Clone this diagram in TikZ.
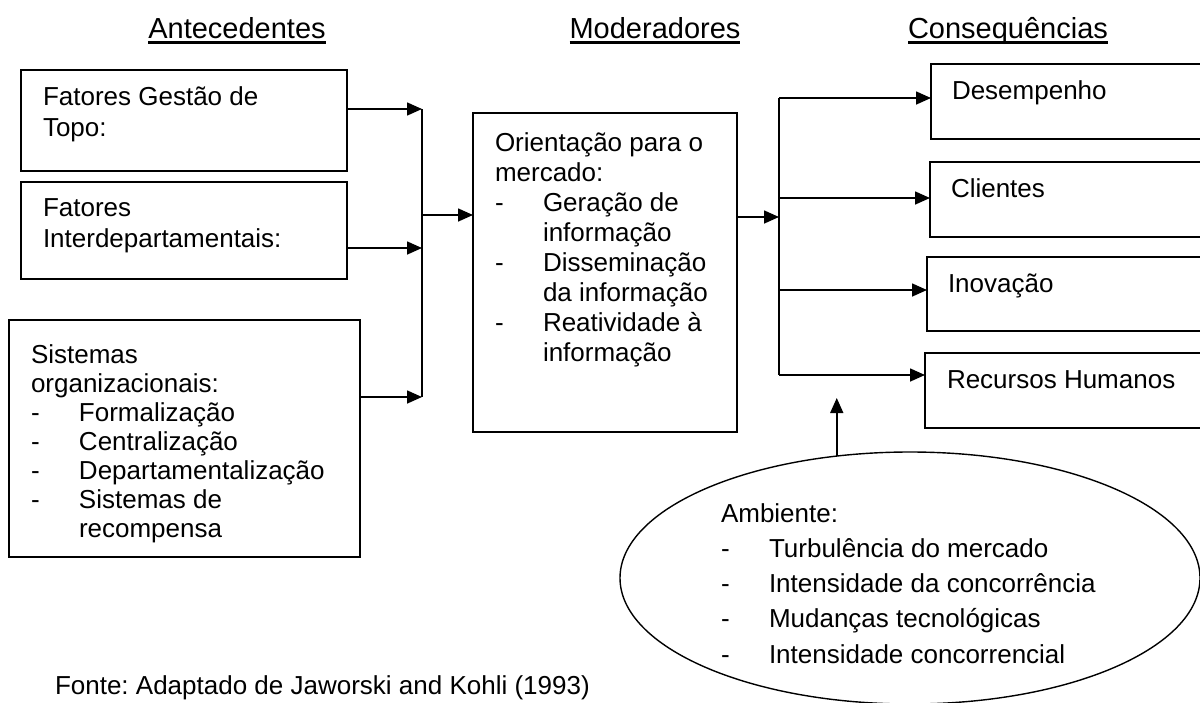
\documentclass[tikz,border=0pt]{standalone}
\usepackage{fontspec}
\setmainfont{Liberation Sans}
\usetikzlibrary{arrows.meta,shapes.geometric,calc}
\frenchspacing
\newcommand{\mydash}{\makebox[48pt][l]{-}}
\newcommand{\myind}{\hspace*{48pt}}
\newcommand{\boxat}[5]{\node[boxnode,minimum width={#4-#2},minimum height={#5-#3}] (#1) at ({(#2+#4)/2},{(#3+#5)/2}) {};}
\newcommand{\textlines}[5]{\foreach \t [count=\i] in {#5} {\node[txt,anchor=base west] (#1-\i) at (#2,{#3+(\i-1)*#4}) {\t};}}
\begin{document}
\begin{tikzpicture}[x=1pt,y=-1pt,
  boxnode/.style={draw,line width=1.8pt,inner sep=0pt,outer sep=0pt,rectangle},
  txt/.style={inner sep=0pt,outer sep=0pt,font=\fontsize{26}{31}\selectfont},
  head/.style={inner sep=0pt,outer sep=0pt,font=\fontsize{29}{34}\selectfont,anchor=base},
  conn/.style={line width=1.6pt},
  arr/.style={line width=1.6pt,-{Triangle[length=15pt,width=13pt]}}]
\useasboundingbox (0,0) rectangle (1200,702);
\clip (0,0) rectangle (1200,702);

% headings
\node[head] (h1) at (237,38) {Antecedentes};
\node[head] (h2) at (655,38) {Moderadores};
\node[head] (h3) at (1008,38) {Consequências};
\foreach \h in {h1,h2,h3} {\draw[line width=2.2pt] ($(\h.base west)+(0,4.5)$) -- ($(\h.base east)+(0,4.5)$);}

% antecedent boxes
\boxat{b1}{21}{70}{347}{171}
\boxat{b2}{21}{182}{347}{279}
\boxat{b3}{9}{320}{360}{557}
\textlines{t1}{43}{105.7}{31}{Fatores Gestão de,Topo:}
\textlines{t2}{43}{216.7}{31}{Fatores,Interdepartamentais:}
\textlines{t3}{31}{363}{29}{Sistemas,organizacionais:,\mydash Formalização,\mydash Centralização,\mydash Departamentalização,\mydash Sistemas de,\myind recompensa}

% moderator box
\boxat{m}{473}{113}{737}{432}
\textlines{tm}{495}{151}{30}{Orientação para o,mercado:,\mydash Geração de,\myind informação,\mydash Disseminação,\myind da informação,\mydash Reatividade à,\myind informação}

% consequence boxes
\boxat{c1}{931}{64}{1215}{139}
\boxat{c2}{930}{162}{1215}{237}
\boxat{c3}{927}{257}{1215}{331}
\boxat{c4}{925}{353}{1215}{428}
\node[txt,anchor=base west] (tc1) at (952,99) {Desempenho};
\node[txt,anchor=base west] (tc2) at (951,197) {Clientes};
\node[txt,anchor=base west] (tc3) at (948,292) {Inovação};
\node[txt,anchor=base west] (tc4) at (947,388) {Recursos Humanos};

% environment ellipse
\node[draw,ellipse,line width=1.4pt,minimum width=580pt,minimum height=252pt,inner sep=0pt,outer sep=0pt] (amb) at (910,578) {};
\textlines{te}{721}{522}{35.3}{Ambiente:,\mydash Turbulência do mercado,\mydash Intensidade da concorrência,\mydash Mudanças tecnológicas,\mydash Intensidade concorrencial}

% left junction
\coordinate (j1) at (422,109);
\coordinate (j2) at (422,248);
\coordinate (j3) at (422,397);
\coordinate (jm) at (422,215);
\draw[arr] (b1.east |- j1) -- (j1);
\draw[arr] (b2.east |- j2) -- (j2);
\draw[arr] (b3.east |- j3) -- (j3);
\draw[conn] (j1) -- (j3);
\draw[arr] (jm) -- (m.west |- jm);

% right junction
\coordinate (k0) at (779,217);
\coordinate (k1) at (779,98);
\coordinate (k2) at (779,198);
\coordinate (k3) at (779,290);
\coordinate (k4) at (779,375);
\draw[arr] (m.east |- k0) -- (k0);
\draw[conn] (k1) -- (k4);
\draw[arr] (k1) -- (c1.west |- k1);
\draw[arr] (k2) -- (c2.west |- k2);
\draw[arr] (k3) -- (c3.west |- k3);
\draw[arr] (k4) -- (c4.west |- k4);

% environment arrow
\coordinate (up) at (835,398);
\draw[arr] (amb.121.6) -- (amb.121.6 |- up);

% source
\node[txt,anchor=base west] (src) at (55,694) {Fonte: Adaptado de Jaworski and Kohli (1993)};
\end{tikzpicture}
\end{document}
